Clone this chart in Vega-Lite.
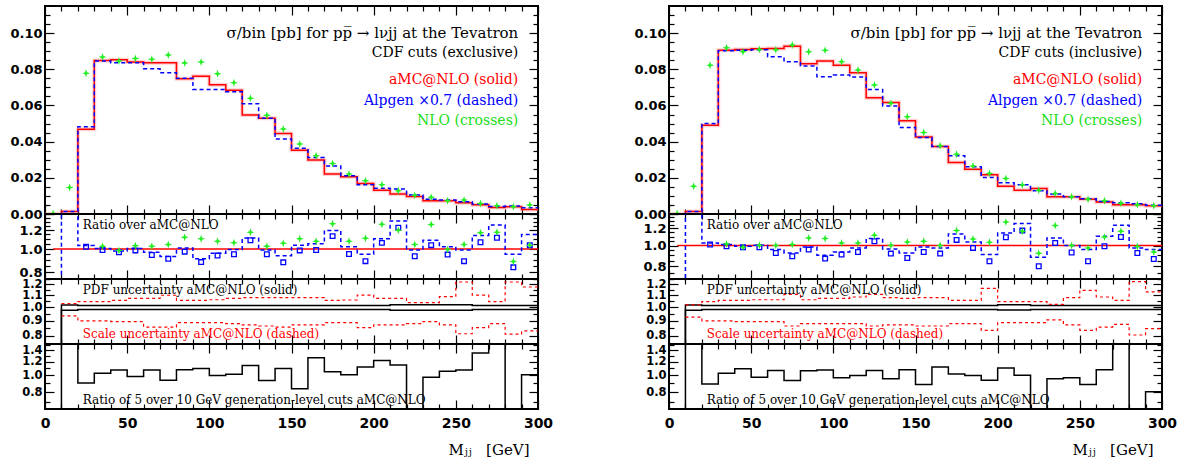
{
"$schema":"https://vega.github.io/schema/vega-lite/v6.json",
"background":"white",
"padding":{"left":8,"top":4,"right":5,"bottom":5},
"bounds":"full",
"spacing":78,
"config":{
 "view":{"stroke":"black","strokeWidth":2},
 "axis":{"domain":false,"grid":false,"labelFont":"DejaVu Sans","labelFontWeight":"bold","labelFontSize":13,"labelColor":"black","tickColor":"black","tickWidth":1.2,"labelFlush":false,"labelOverlap":false,"title":null}
},
"datasets":{
"L":[{"x":0,"amc":0,"alp":0,"ra":0.5,"pu":0.5,"pl":0.5,"su":null,"sl":null,"r5":0.3},
{"x":10,"amc":0.0014,"alp":0.0014,"ra":3,"pu":1.019,"pl":0.977,"su":1.03,"sl":0.935,"r5":3},
{"x":20,"amc":0.0469,"alp":0.0482,"ra":1.034,"pu":1.015,"pl":0.983,"su":1.046,"sl":0.899,"r5":0.906},
{"x":30,"amc":0.0849,"alp":0.0846,"ra":1.006,"pu":1.015,"pl":0.983,"su":1.046,"sl":0.899,"r5":1.031},
{"x":40,"amc":0.0853,"alp":0.0836,"ra":0.981,"pu":1.015,"pl":0.983,"su":1.057,"sl":0.894,"r5":1.077},
{"x":50,"amc":0.084,"alp":0.0836,"ra":1.006,"pu":1.015,"pl":0.983,"su":1.074,"sl":0.894,"r5":0.987},
{"x":60,"amc":0.0836,"alp":0.0803,"ra":0.969,"pu":1.015,"pl":0.983,"su":1.074,"sl":0.857,"r5":1.077},
{"x":70,"amc":0.0836,"alp":0.0781,"ra":0.93,"pu":1.015,"pl":0.983,"su":1.1,"sl":0.857,"r5":0.939},
{"x":80,"amc":0.0748,"alp":0.075,"ra":1.009,"pu":1.015,"pl":0.983,"su":1.057,"sl":0.887,"r5":1.08},
{"x":90,"amc":0.0761,"alp":0.0689,"ra":0.911,"pu":1.015,"pl":0.983,"su":1.057,"sl":0.887,"r5":1.098},
{"x":100,"amc":0.0715,"alp":0.0689,"ra":0.96,"pu":1.015,"pl":0.983,"su":1.062,"sl":0.887,"r5":1.0},
{"x":110,"amc":0.0684,"alp":0.0676,"ra":0.996,"pu":1.015,"pl":0.983,"su":1.074,"sl":0.88,"r5":1.017},
{"x":120,"amc":0.0548,"alp":0.061,"ra":1.111,"pu":1.015,"pl":0.983,"su":1.079,"sl":0.871,"r5":1.142},
{"x":130,"amc":0.053,"alp":0.053,"ra":0.991,"pu":1.015,"pl":0.983,"su":1.079,"sl":0.864,"r5":0.936},
{"x":140,"amc":0.0445,"alp":0.0414,"ra":0.937,"pu":1.015,"pl":0.983,"su":1.079,"sl":0.857,"r5":1.098},
{"x":150,"amc":0.0353,"alp":0.0364,"ra":1.038,"pu":1.015,"pl":0.983,"su":1.079,"sl":0.871,"r5":0.837},
{"x":160,"amc":0.0298,"alp":0.0312,"ra":1.051,"pu":1.015,"pl":0.983,"su":1.079,"sl":0.871,"r5":1.264},
{"x":170,"amc":0.0221,"alp":0.0266,"ra":1.195,"pu":1.015,"pl":0.983,"su":1.057,"sl":0.887,"r5":1.049},
{"x":180,"amc":0.0206,"alp":0.0211,"ra":1.022,"pu":1.015,"pl":0.983,"su":1.06,"sl":0.887,"r5":1.008},
{"x":190,"amc":0.0169,"alp":0.0162,"ra":0.951,"pu":1.015,"pl":0.983,"su":1.102,"sl":0.853,"r5":1.121},
{"x":200,"amc":0.0132,"alp":0.0143,"ra":1.104,"pu":1.015,"pl":0.983,"su":1.074,"sl":0.871,"r5":1.221},
{"x":210,"amc":0.011,"alp":0.0138,"ra":1.31,"pu":1.022,"pl":0.978,"su":1.074,"sl":0.871,"r5":1.151},
{"x":220,"amc":0.0097,"alp":0.0105,"ra":0.991,"pu":1.022,"pl":0.978,"su":1.038,"sl":0.88,"r5":0.3},
{"x":230,"amc":0.0073,"alp":0.0081,"ra":1.088,"pu":1.022,"pl":0.978,"su":1.038,"sl":0.894,"r5":0.978},
{"x":240,"amc":0.0073,"alp":0.0078,"ra":1.022,"pu":1.022,"pl":0.978,"su":1.088,"sl":0.871,"r5":1.059},
{"x":250,"amc":0.0062,"alp":0.0068,"ra":0.991,"pu":1.022,"pl":0.978,"su":1.221,"sl":0.813,"r5":1.077},
{"x":260,"amc":0.0051,"alp":0.0055,"ra":1.14,"pu":1.015,"pl":0.983,"su":1.102,"sl":0.853,"r5":1.35},
{"x":270,"amc":0.0036,"alp":0.0042,"ra":1.259,"pu":1.015,"pl":0.983,"su":1.046,"sl":0.88,"r5":3},
{"x":280,"amc":0.004,"alp":0.0044,"ra":0.951,"pu":1.015,"pl":0.983,"su":1.221,"sl":0.81,"r5":0.3},
{"x":290,"amc":0.0025,"alp":0.0035,"ra":1.15,"pu":1.015,"pl":0.983,"su":1.174,"sl":0.831,"r5":1.008},
{"x":300,"amc":0.0025,"alp":0.0035,"ra":1.15,"pu":1.015,"pl":0.983,"su":1.174,"sl":0.831,"r5":1.008}],
"Lc":[{"x":5,"nlo":0.0003,"sq":null,"rn":null},{"x":15,"nlo":0.0147,"sq":null,"rn":null},
{"x":25,"nlo":0.0778,"sq":1.022,"rn":null},{"x":35,"nlo":0.0868,"sq":0.991,"rn":1.028},
{"x":45,"nlo":0.0846,"sq":0.969,"rn":0.987},{"x":55,"nlo":0.086,"sq":0.987,"rn":1.031},
{"x":65,"nlo":0.0855,"sq":0.945,"rn":1.028},{"x":75,"nlo":0.0879,"sq":0.911,"rn":1.044},
{"x":85,"nlo":0.0835,"sq":0.975,"rn":1.119},{"x":95,"nlo":0.084,"sq":0.882,"rn":1.104},
{"x":105,"nlo":0.0776,"sq":0.939,"rn":1.078},{"x":115,"nlo":0.0726,"sq":0.951,"rn":1.061},
{"x":125,"nlo":0.064,"sq":1.088,"rn":1.176},{"x":135,"nlo":0.0546,"sq":0.951,"rn":1.028},
{"x":145,"nlo":0.047,"sq":0.88,"rn":1.058},{"x":155,"nlo":0.0387,"sq":0.987,"rn":1.104},
{"x":165,"nlo":0.0322,"sq":0.991,"rn":1.078},{"x":175,"nlo":0.0279,"sq":1.132,"rn":1.275},
{"x":185,"nlo":0.0221,"sq":0.954,"rn":1.078},{"x":195,"nlo":0.0184,"sq":0.89,"rn":1.11},
{"x":205,"nlo":0.0162,"sq":1.061,"rn":1.268},{"x":215,"nlo":0.0129,"sq":1.228,"rn":1.198},
{"x":225,"nlo":0.0103,"sq":0.933,"rn":1.044},{"x":235,"nlo":0.0092,"sq":1.038,"rn":1.265},
{"x":245,"nlo":0.0073,"sq":0.948,"rn":0.996},{"x":255,"nlo":0.0077,"sq":0.89,"rn":1.044},
{"x":265,"nlo":0.0058,"sq":1.068,"rn":1.168},{"x":275,"nlo":0.0046,"sq":1.115,"rn":1.176},
{"x":285,"nlo":0.004,"sq":0.839,"rn":0.888},{"x":295,"nlo":0.005,"sq":1.038,"rn":1.036}],
"R":[{"x":0,"amc":0,"alp":0,"ra":0.5,"pu":0.5,"pl":0.5,"su":null,"sl":null,"r5":0.3},
{"x":10,"amc":0.0014,"alp":0.0014,"ra":3,"pu":1.019,"pl":0.977,"su":1.02,"sl":0.927,"r5":3},
{"x":20,"amc":0.0491,"alp":0.05,"ra":1.028,"pu":1.015,"pl":0.983,"su":1.046,"sl":0.899,"r5":0.894},
{"x":30,"amc":0.0905,"alp":0.0902,"ra":1.011,"pu":1.015,"pl":0.983,"su":1.057,"sl":0.899,"r5":1.031},
{"x":40,"amc":0.091,"alp":0.0905,"ra":0.993,"pu":1.015,"pl":0.983,"su":1.057,"sl":0.894,"r5":1.092},
{"x":50,"amc":0.0913,"alp":0.0908,"ra":1.003,"pu":1.015,"pl":0.983,"su":1.062,"sl":0.894,"r5":0.978},
{"x":60,"amc":0.0915,"alp":0.0869,"ra":0.958,"pu":1.015,"pl":0.983,"su":1.062,"sl":0.894,"r5":1.069},
{"x":70,"amc":0.0928,"alp":0.0842,"ra":0.924,"pu":1.015,"pl":0.983,"su":1.108,"sl":0.864,"r5":0.936},
{"x":80,"amc":0.0831,"alp":0.0818,"ra":0.985,"pu":1.015,"pl":0.983,"su":1.062,"sl":0.88,"r5":1.066},
{"x":90,"amc":0.0846,"alp":0.0759,"ra":0.902,"pu":1.015,"pl":0.983,"su":1.074,"sl":0.88,"r5":1.077},
{"x":100,"amc":0.0822,"alp":0.0768,"ra":0.934,"pu":1.015,"pl":0.983,"su":1.074,"sl":0.88,"r5":0.969},
{"x":110,"amc":0.0781,"alp":0.0757,"ra":0.975,"pu":1.015,"pl":0.983,"su":1.085,"sl":0.88,"r5":1.0},
{"x":120,"amc":0.0643,"alp":0.0689,"ra":1.077,"pu":1.015,"pl":0.983,"su":1.108,"sl":0.864,"r5":1.069},
{"x":130,"amc":0.0616,"alp":0.0597,"ra":0.965,"pu":1.015,"pl":0.983,"su":1.079,"sl":0.871,"r5":0.956},
{"x":140,"amc":0.0515,"alp":0.0478,"ra":0.924,"pu":1.015,"pl":0.983,"su":1.074,"sl":0.871,"r5":1.08},
{"x":150,"amc":0.0426,"alp":0.0423,"ra":0.985,"pu":1.015,"pl":0.983,"su":1.079,"sl":0.864,"r5":0.887},
{"x":160,"amc":0.0373,"alp":0.0373,"ra":0.975,"pu":1.015,"pl":0.983,"su":1.079,"sl":0.864,"r5":1.121},
{"x":170,"amc":0.0285,"alp":0.0322,"ra":1.132,"pu":1.015,"pl":0.983,"su":1.057,"sl":0.88,"r5":1.021},
{"x":180,"amc":0.0248,"alp":0.0261,"ra":1.039,"pu":1.015,"pl":0.983,"su":1.057,"sl":0.88,"r5":1.0},
{"x":190,"amc":0.0217,"alp":0.0202,"ra":0.908,"pu":1.015,"pl":0.983,"su":1.162,"sl":0.835,"r5":0.939},
{"x":200,"amc":0.0154,"alp":0.0173,"ra":1.144,"pu":1.02,"pl":0.98,"su":1.046,"sl":0.887,"r5":1.106},
{"x":210,"amc":0.0132,"alp":0.0162,"ra":1.264,"pu":1.02,"pl":0.98,"su":1.046,"sl":0.887,"r5":1.004},
{"x":220,"amc":0.0141,"alp":0.0129,"ra":0.883,"pu":1.015,"pl":0.983,"su":1.046,"sl":0.887,"r5":0.3},
{"x":230,"amc":0.0095,"alp":0.011,"ra":1.084,"pu":1.015,"pl":0.983,"su":1.024,"sl":0.906,"r5":0.956},
{"x":240,"amc":0.0095,"alp":0.0095,"ra":1.0,"pu":1.015,"pl":0.983,"su":1.079,"sl":0.871,"r5":0.969},
{"x":250,"amc":0.0081,"alp":0.0084,"ra":0.958,"pu":1.015,"pl":0.983,"su":1.144,"sl":0.835,"r5":0.887},
{"x":260,"amc":0.0066,"alp":0.0069,"ra":1.104,"pu":1.015,"pl":0.983,"su":1.085,"sl":0.857,"r5":1.08},
{"x":270,"amc":0.0051,"alp":0.0062,"ra":1.242,"pu":1.015,"pl":0.983,"su":1.057,"sl":0.875,"r5":3},
{"x":280,"amc":0.0051,"alp":0.0057,"ra":0.975,"pu":1.015,"pl":0.983,"su":1.224,"sl":0.805,"r5":0.3},
{"x":290,"amc":0.0046,"alp":0.0048,"ra":0.958,"pu":1.015,"pl":0.983,"su":1.129,"sl":0.846,"r5":0.804},
{"x":300,"amc":0.0046,"alp":0.0048,"ra":0.958,"pu":1.015,"pl":0.983,"su":1.129,"sl":0.846,"r5":0.804}],
"Rc":[{"x":5,"nlo":0.0003,"sq":null,"rn":null},{"x":15,"nlo":0.0154,"sq":null,"rn":null},
{"x":25,"nlo":0.0823,"sq":1.011,"rn":null},{"x":35,"nlo":0.0919,"sq":0.993,"rn":1.017},
{"x":45,"nlo":0.0897,"sq":0.982,"rn":0.982},{"x":55,"nlo":0.091,"sq":0.982,"rn":1.003},
{"x":65,"nlo":0.0908,"sq":0.924,"rn":1.0},{"x":75,"nlo":0.0935,"sq":0.892,"rn":1.011},
{"x":85,"nlo":0.0897,"sq":0.958,"rn":1.084},{"x":95,"nlo":0.0906,"sq":0.87,"rn":1.077},
{"x":105,"nlo":0.0842,"sq":0.909,"rn":1.028},{"x":115,"nlo":0.0796,"sq":0.934,"rn":1.028},
{"x":125,"nlo":0.0713,"sq":1.047,"rn":1.116},{"x":135,"nlo":0.0612,"sq":0.918,"rn":1.003},
{"x":145,"nlo":0.0537,"sq":0.876,"rn":1.039},{"x":155,"nlo":0.045,"sq":0.934,"rn":1.047},
{"x":165,"nlo":0.0377,"sq":0.918,"rn":1.0},{"x":175,"nlo":0.0331,"sq":1.062,"rn":1.173},
{"x":185,"nlo":0.0266,"sq":0.975,"rn":1.073},{"x":195,"nlo":0.0224,"sq":0.846,"rn":1.035},
{"x":205,"nlo":0.0196,"sq":1.092,"rn":1.286},{"x":215,"nlo":0.016,"sq":1.173,"rn":1.165},
{"x":225,"nlo":0.0132,"sq":0.802,"rn":0.921},{"x":235,"nlo":0.0114,"sq":1.028,"rn":1.238},
{"x":245,"nlo":0.0095,"sq":0.929,"rn":1.0},{"x":255,"nlo":0.0081,"sq":0.846,"rn":0.975},
{"x":265,"nlo":0.0073,"sq":0.993,"rn":1.096},{"x":275,"nlo":0.006,"sq":1.096,"rn":1.165},
{"x":285,"nlo":0.0051,"sq":0.924,"rn":0.99},{"x":295,"nlo":0.0046,"sq":0.867,"rn":0.934}]
},
"hconcat":[
{"vconcat":[
 {"width":493,"height":208,"data":{"name":"L"},
  "layer":[
   {"mark":{"type":"line","interpolate":"step-after","color":"#ff8080","strokeWidth":4,"opacity":0.35,"clip":true},
    "encoding":{"x":{"field":"x","type":"quantitative","scale":{"domain":[0,300],"nice":false,"zero":false},"axis":{"orient":"bottom","values":[0,10,20,30,40,50,60,70,80,90,100,110,120,130,140,150,160,170,180,190,200,210,220,230,240,250,260,270,280,290,300],"labels":false,"tickSize":{"condition":{"test":"datum.value % 50 === 0","value":-9},"value":-5}}},
     "y":{"field":"amc","type":"quantitative","scale":{"domain":[0,0.115],"nice":false,"zero":false},"axis":{"orient":"left","values":[0,0.005,0.01,0.015,0.02,0.025,0.03,0.035,0.04,0.045,0.05,0.055,0.06,0.065,0.07,0.075,0.08,0.085,0.09,0.095,0.1,0.105,0.11],"tickSize":{"condition":{"test":"abs(datum.value*50-round(datum.value*50))<0.001","value":-9},"value":-5},"labelExpr":"abs(datum.value*50-round(datum.value*50))<0.001 ? format(datum.value,'.2f') : ''","labelPadding":12}}}},
   {"mark":{"type":"line","interpolate":"step-after","color":"#ff0000","strokeWidth":1.5,"clip":true},
    "encoding":{"x":{"field":"x","type":"quantitative","axis":{"orient":"top","values":[0,10,20,30,40,50,60,70,80,90,100,110,120,130,140,150,160,170,180,190,200,210,220,230,240,250,260,270,280,290,300],"labels":false,"tickSize":{"condition":{"test":"datum.value % 50 === 0","value":-9},"value":-5}}},
     "y":{"field":"amc","type":"quantitative","axis":{"orient":"right","values":[0,0.005,0.01,0.015,0.02,0.025,0.03,0.035,0.04,0.045,0.05,0.055,0.06,0.065,0.07,0.075,0.08,0.085,0.09,0.095,0.1,0.105,0.11],"labels":false,"tickSize":{"condition":{"test":"abs(datum.value*50-round(datum.value*50))<0.001","value":-9},"value":-5}}}}},
   {"mark":{"type":"line","interpolate":"step-after","color":"#0000ff","strokeWidth":1.5,"strokeDash":[4,3],"clip":true},
    "encoding":{"x":{"field":"x","type":"quantitative","axis":null},"y":{"field":"alp","type":"quantitative","axis":null}}},
   {"data":{"name":"Lc"},"mark":{"type":"point","shape":"M0,-1L0.25,-0.25L1,0L0.25,0.25L0,1L-0.25,0.25L-1,0L-0.25,-0.25Z","filled":true,"color":"#22ee22","opacity":1,"size":64,"clip":true},
    "encoding":{"x":{"field":"x","type":"quantitative","axis":null},"y":{"field":"nlo","type":"quantitative","axis":null}}},
   {"data":{"values":[{}]},"mark":{"type":"text","text":"σ/bin [pb] for pp\u0305 → lνjj at the Tevatron","align":"right","baseline":"middle","font":"DejaVu Serif","fontSize":15,"color":"black"},
    "encoding":{"x":{"datum":288,"type":"quantitative","axis":null},"y":{"datum":0.1,"type":"quantitative","axis":null}}},
   {"data":{"values":[{}]},"mark":{"type":"text","text":"CDF cuts (exclusive)","align":"right","baseline":"middle","font":"DejaVu Serif","fontSize":14,"color":"black"},
    "encoding":{"x":{"datum":288,"type":"quantitative","axis":null},"y":{"datum":0.089,"type":"quantitative","axis":null}}},
   {"data":{"values":[{}]},"mark":{"type":"text","text":"aMC@NLO (solid)","align":"right","baseline":"middle","font":"DejaVu Serif","fontSize":14,"color":"#ff0000"},
    "encoding":{"x":{"datum":288,"type":"quantitative","axis":null},"y":{"datum":0.0741,"type":"quantitative","axis":null}}},
   {"data":{"values":[{}]},"mark":{"type":"text","text":"Alpgen ×0.7 (dashed)","align":"right","baseline":"middle","font":"DejaVu Serif","fontSize":14,"color":"#0000ff"},
    "encoding":{"x":{"datum":288,"type":"quantitative","axis":null},"y":{"datum":0.0625,"type":"quantitative","axis":null}}},
   {"data":{"values":[{}]},"mark":{"type":"text","text":"NLO (crosses)","align":"right","baseline":"middle","font":"DejaVu Serif","fontSize":14,"color":"#22dd22"},
    "encoding":{"x":{"datum":288,"type":"quantitative","axis":null},"y":{"datum":0.0514,"type":"quantitative","axis":null}}}
  ],
  "resolve":{"axis":{"x":"independent","y":"independent"}}},
 {"width":493,"height":65,"data":{"name":"L"},
  "layer":[
   {"data":{"values":[{}]},"mark":{"type":"rule","color":"#ff0000","strokeWidth":1.5},
    "encoding":{"x":{"datum":5,"type":"quantitative","scale":{"domain":[0,300],"nice":false,"zero":false},"axis":{"orient":"bottom","values":[0,10,20,30,40,50,60,70,80,90,100,110,120,130,140,150,160,170,180,190,200,210,220,230,240,250,260,270,280,290,300],"labels":false,"tickSize":{"condition":{"test":"datum.value % 50 === 0","value":-9},"value":-5}}},"x2":{"datum":300},
     "y":{"datum":1,"type":"quantitative","scale":{"type":"log","domain":[0.75,1.4],"nice":false},"axis":{"orient":"left","values":[0.75,0.8,0.85,0.9,0.95,1,1.05,1.1,1.15,1.2,1.25,1.3,1.35,1.4],"tickSize":{"condition":{"test":"abs(datum.value*5-round(datum.value*5))<0.001","value":-9},"value":-5},"labelExpr":"abs(datum.value*5-round(datum.value*5))<0.001 && datum.value<1.3 ? format(datum.value,'.1f') : ''","labelPadding":12}}}},
   {"mark":{"type":"line","interpolate":"step-after","color":"#0000ff","strokeWidth":1.5,"strokeDash":[4,3],"clip":true},
    "encoding":{"x":{"field":"x","type":"quantitative","axis":{"orient":"top","values":[0,10,20,30,40,50,60,70,80,90,100,110,120,130,140,150,160,170,180,190,200,210,220,230,240,250,260,270,280,290,300],"labels":false,"tickSize":{"condition":{"test":"datum.value % 50 === 0","value":-9},"value":-5}}},
     "y":{"field":"ra","type":"quantitative","axis":{"orient":"right","values":[0.75,0.8,0.85,0.9,0.95,1,1.05,1.1,1.15,1.2,1.25,1.3,1.35,1.4],"labels":false,"tickSize":{"condition":{"test":"abs(datum.value*5-round(datum.value*5))<0.001","value":-9},"value":-5}}}}},
   {"data":{"name":"Lc"},"mark":{"type":"point","shape":"square","filled":false,"color":"#0000ff","size":22,"strokeWidth":1.3,"opacity":1,"clip":true},
    "encoding":{"x":{"field":"x","type":"quantitative","axis":null},"y":{"field":"sq","type":"quantitative","axis":null}}},
   {"data":{"name":"Lc"},"mark":{"type":"point","shape":"M0,-1L0.25,-0.25L1,0L0.25,0.25L0,1L-0.25,0.25L-1,0L-0.25,-0.25Z","filled":true,"color":"#22ee22","opacity":1,"size":64,"clip":true},
    "encoding":{"x":{"field":"x","type":"quantitative","axis":null},"y":{"field":"rn","type":"quantitative","axis":null}}},
   {"data":{"values":[{}]},"mark":{"type":"text","text":"Ratio over aMC@NLO","align":"left","baseline":"middle","font":"DejaVu Serif","fontSize":12,"color":"black"},
    "encoding":{"x":{"datum":23,"type":"quantitative","axis":null},"y":{"datum":1.259,"type":"quantitative","axis":null}}}
  ],
  "resolve":{"axis":{"x":"independent","y":"independent"}}},
 {"width":493,"height":65,"data":{"name":"L"},
  "layer":[
   {"mark":{"type":"line","interpolate":"step-after","color":"black","strokeWidth":1.5,"clip":true},
    "encoding":{"x":{"field":"x","type":"quantitative","scale":{"domain":[0,300],"nice":false,"zero":false},"axis":{"orient":"bottom","values":[0,10,20,30,40,50,60,70,80,90,100,110,120,130,140,150,160,170,180,190,200,210,220,230,240,250,260,270,280,290,300],"labels":false,"tickSize":{"condition":{"test":"datum.value % 50 === 0","value":-9},"value":-5}}},
     "y":{"field":"pu","type":"quantitative","scale":{"type":"log","domain":[0.75,1.25],"nice":false},"axis":{"orient":"left","values":[0.75,0.8,0.85,0.9,0.95,1,1.05,1.1,1.15,1.2,1.25],"tickSize":{"condition":{"test":"abs(datum.value*10-round(datum.value*10))<0.001","value":-9},"value":-5},"labelExpr":"abs(datum.value*10-round(datum.value*10))<0.001 && datum.value<1.22 && datum.value>0.78 ? format(datum.value,'.1f') : ''","labelPadding":12,"labelFontSize":11.5}}}},
   {"mark":{"type":"line","interpolate":"step-after","color":"black","strokeWidth":1.5,"clip":true},
    "encoding":{"x":{"field":"x","type":"quantitative","axis":{"orient":"top","values":[0,10,20,30,40,50,60,70,80,90,100,110,120,130,140,150,160,170,180,190,200,210,220,230,240,250,260,270,280,290,300],"labels":false,"tickSize":{"condition":{"test":"datum.value % 50 === 0","value":-9},"value":-5}}},
     "y":{"field":"pl","type":"quantitative","axis":{"orient":"right","values":[0.75,0.8,0.85,0.9,0.95,1,1.05,1.1,1.15,1.2,1.25],"labels":false,"tickSize":{"condition":{"test":"abs(datum.value*10-round(datum.value*10))<0.001","value":-9},"value":-5}}}}},
   {"mark":{"type":"line","interpolate":"step-after","color":"#ff0000","strokeWidth":1.2,"strokeDash":[3,3],"clip":true},
    "encoding":{"x":{"field":"x","type":"quantitative","axis":null},"y":{"field":"su","type":"quantitative","axis":null}}},
   {"mark":{"type":"line","interpolate":"step-after","color":"#ff0000","strokeWidth":1.2,"strokeDash":[3,3],"clip":true},
    "encoding":{"x":{"field":"x","type":"quantitative","axis":null},"y":{"field":"sl","type":"quantitative","axis":null}}},
   {"data":{"values":[{}]},"mark":{"type":"text","text":"PDF uncertainty aMC@NLO (solid)","align":"left","baseline":"middle","font":"DejaVu Serif","fontSize":12,"color":"black"},
    "encoding":{"x":{"datum":23,"type":"quantitative","axis":null},"y":{"datum":1.147,"type":"quantitative","axis":null}}},
   {"data":{"values":[{}]},"mark":{"type":"text","text":"Scale uncertainty aMC@NLO (dashed)","align":"left","baseline":"middle","font":"DejaVu Serif","fontSize":12,"color":"#ff0000"},
    "encoding":{"x":{"datum":23,"type":"quantitative","axis":null},"y":{"datum":0.811,"type":"quantitative","axis":null}}}
  ],
  "resolve":{"axis":{"x":"independent","y":"independent"}}},
 {"width":493,"height":65,"data":{"name":"L"},
  "layer":[
   {"mark":{"type":"line","interpolate":"step-after","color":"black","strokeWidth":1.5,"clip":true},
    "encoding":{"x":{"field":"x","type":"quantitative","scale":{"domain":[0,300],"nice":false,"zero":false},"axis":{"orient":"bottom","values":[0,10,20,30,40,50,60,70,80,90,100,110,120,130,140,150,160,170,180,190,200,210,220,230,240,250,260,270,280,290,300],"tickSize":{"condition":{"test":"datum.value % 50 === 0","value":-9},"value":-5},"labelExpr":"datum.value % 50 === 0 ? datum.label : ''","labelPadding":16,"labelFontSize":14,"title":"Mⱼⱼ\u00a0\u00a0\u00a0[GeV]","titleFont":"DejaVu Serif","titleFontSize":15,"titleFontWeight":"normal","titleColor":"black","titleAlign":"right","titleX":484,"titleY":40,"titleBaseline":"middle"}},
     "y":{"field":"r5","type":"quantitative","scale":{"type":"log","domain":[0.64,1.52],"nice":false},"axis":{"orient":"left","values":[0.7,0.8,0.9,1,1.1,1.2,1.3,1.4,1.5],"tickSize":{"condition":{"test":"abs(datum.value*5-round(datum.value*5))<0.001","value":-9},"value":-5},"labelExpr":"abs(datum.value*5-round(datum.value*5))<0.001 ? format(datum.value,'.1f') : ''","labelPadding":12,"labelFontSize":11.5}}}},
   {"data":{"values":[{}]},"mark":{"type":"text","text":"Ratio of 5 over 10 GeV generation-level cuts aMC@NLO","align":"left","baseline":"middle","font":"DejaVu Serif","fontSize":12,"color":"black"},
    "encoding":{"x":{"datum":23,"type":"quantitative","axis":{"orient":"top","values":[0,10,20,30,40,50,60,70,80,90,100,110,120,130,140,150,160,170,180,190,200,210,220,230,240,250,260,270,280,290,300],"labels":false,"tickSize":{"condition":{"test":"datum.value % 50 === 0","value":-9},"value":-5}}},
     "y":{"datum":0.722,"type":"quantitative","axis":{"orient":"right","values":[0.7,0.8,0.9,1,1.1,1.2,1.3,1.4,1.5],"labels":false,"tickSize":{"condition":{"test":"abs(datum.value*5-round(datum.value*5))<0.001","value":-9},"value":-5}}}}}
  ],
  "resolve":{"axis":{"x":"independent","y":"independent"}}}
],"spacing":0,"bounds":"flush"},
{"vconcat":[
 {"width":493,"height":208,"data":{"name":"R"},
  "layer":[
   {"mark":{"type":"line","interpolate":"step-after","color":"#ff8080","strokeWidth":4,"opacity":0.35,"clip":true},
    "encoding":{"x":{"field":"x","type":"quantitative","scale":{"domain":[0,300],"nice":false,"zero":false},"axis":{"orient":"bottom","values":[0,10,20,30,40,50,60,70,80,90,100,110,120,130,140,150,160,170,180,190,200,210,220,230,240,250,260,270,280,290,300],"labels":false,"tickSize":{"condition":{"test":"datum.value % 50 === 0","value":-9},"value":-5}}},
     "y":{"field":"amc","type":"quantitative","scale":{"domain":[0,0.115],"nice":false,"zero":false},"axis":{"orient":"left","values":[0,0.005,0.01,0.015,0.02,0.025,0.03,0.035,0.04,0.045,0.05,0.055,0.06,0.065,0.07,0.075,0.08,0.085,0.09,0.095,0.1,0.105,0.11],"tickSize":{"condition":{"test":"abs(datum.value*50-round(datum.value*50))<0.001","value":-9},"value":-5},"labelExpr":"abs(datum.value*50-round(datum.value*50))<0.001 ? format(datum.value,'.2f') : ''","labelPadding":12}}}},
   {"mark":{"type":"line","interpolate":"step-after","color":"#ff0000","strokeWidth":1.5,"clip":true},
    "encoding":{"x":{"field":"x","type":"quantitative","axis":{"orient":"top","values":[0,10,20,30,40,50,60,70,80,90,100,110,120,130,140,150,160,170,180,190,200,210,220,230,240,250,260,270,280,290,300],"labels":false,"tickSize":{"condition":{"test":"datum.value % 50 === 0","value":-9},"value":-5}}},
     "y":{"field":"amc","type":"quantitative","axis":{"orient":"right","values":[0,0.005,0.01,0.015,0.02,0.025,0.03,0.035,0.04,0.045,0.05,0.055,0.06,0.065,0.07,0.075,0.08,0.085,0.09,0.095,0.1,0.105,0.11],"labels":false,"tickSize":{"condition":{"test":"abs(datum.value*50-round(datum.value*50))<0.001","value":-9},"value":-5}}}}},
   {"mark":{"type":"line","interpolate":"step-after","color":"#0000ff","strokeWidth":1.5,"strokeDash":[4,3],"clip":true},
    "encoding":{"x":{"field":"x","type":"quantitative","axis":null},"y":{"field":"alp","type":"quantitative","axis":null}}},
   {"data":{"name":"Rc"},"mark":{"type":"point","shape":"M0,-1L0.25,-0.25L1,0L0.25,0.25L0,1L-0.25,0.25L-1,0L-0.25,-0.25Z","filled":true,"color":"#22ee22","opacity":1,"size":64,"clip":true},
    "encoding":{"x":{"field":"x","type":"quantitative","axis":null},"y":{"field":"nlo","type":"quantitative","axis":null}}},
   {"data":{"values":[{}]},"mark":{"type":"text","text":"σ/bin [pb] for pp\u0305 → lνjj at the Tevatron","align":"right","baseline":"middle","font":"DejaVu Serif","fontSize":15,"color":"black"},
    "encoding":{"x":{"datum":288,"type":"quantitative","axis":null},"y":{"datum":0.1,"type":"quantitative","axis":null}}},
   {"data":{"values":[{}]},"mark":{"type":"text","text":"CDF cuts (inclusive)","align":"right","baseline":"middle","font":"DejaVu Serif","fontSize":14,"color":"black"},
    "encoding":{"x":{"datum":288,"type":"quantitative","axis":null},"y":{"datum":0.089,"type":"quantitative","axis":null}}},
   {"data":{"values":[{}]},"mark":{"type":"text","text":"aMC@NLO (solid)","align":"right","baseline":"middle","font":"DejaVu Serif","fontSize":14,"color":"#ff0000"},
    "encoding":{"x":{"datum":288,"type":"quantitative","axis":null},"y":{"datum":0.0741,"type":"quantitative","axis":null}}},
   {"data":{"values":[{}]},"mark":{"type":"text","text":"Alpgen ×0.7 (dashed)","align":"right","baseline":"middle","font":"DejaVu Serif","fontSize":14,"color":"#0000ff"},
    "encoding":{"x":{"datum":288,"type":"quantitative","axis":null},"y":{"datum":0.0625,"type":"quantitative","axis":null}}},
   {"data":{"values":[{}]},"mark":{"type":"text","text":"NLO (crosses)","align":"right","baseline":"middle","font":"DejaVu Serif","fontSize":14,"color":"#22dd22"},
    "encoding":{"x":{"datum":288,"type":"quantitative","axis":null},"y":{"datum":0.0514,"type":"quantitative","axis":null}}}
  ],
  "resolve":{"axis":{"x":"independent","y":"independent"}}},
 {"width":493,"height":65,"data":{"name":"R"},
  "layer":[
   {"data":{"values":[{}]},"mark":{"type":"rule","color":"#ff0000","strokeWidth":1.5},
    "encoding":{"x":{"datum":5,"type":"quantitative","scale":{"domain":[0,300],"nice":false,"zero":false},"axis":{"orient":"bottom","values":[0,10,20,30,40,50,60,70,80,90,100,110,120,130,140,150,160,170,180,190,200,210,220,230,240,250,260,270,280,290,300],"labels":false,"tickSize":{"condition":{"test":"datum.value % 50 === 0","value":-9},"value":-5}}},"x2":{"datum":300},
     "y":{"datum":1,"type":"quantitative","scale":{"type":"log","domain":[0.7,1.4],"nice":false},"axis":{"orient":"left","values":[0.7,0.75,0.8,0.85,0.9,0.95,1,1.05,1.1,1.15,1.2,1.25,1.3,1.35,1.4],"tickSize":{"condition":{"test":"abs(datum.value*5-round(datum.value*5))<0.001","value":-9},"value":-5},"labelExpr":"abs(datum.value*5-round(datum.value*5))<0.001 && datum.value<1.3 ? format(datum.value,'.1f') : ''","labelPadding":12}}}},
   {"mark":{"type":"line","interpolate":"step-after","color":"#0000ff","strokeWidth":1.5,"strokeDash":[4,3],"clip":true},
    "encoding":{"x":{"field":"x","type":"quantitative","axis":{"orient":"top","values":[0,10,20,30,40,50,60,70,80,90,100,110,120,130,140,150,160,170,180,190,200,210,220,230,240,250,260,270,280,290,300],"labels":false,"tickSize":{"condition":{"test":"datum.value % 50 === 0","value":-9},"value":-5}}},
     "y":{"field":"ra","type":"quantitative","axis":{"orient":"right","values":[0.7,0.75,0.8,0.85,0.9,0.95,1,1.05,1.1,1.15,1.2,1.25,1.3,1.35,1.4],"labels":false,"tickSize":{"condition":{"test":"abs(datum.value*5-round(datum.value*5))<0.001","value":-9},"value":-5}}}}},
   {"data":{"name":"Rc"},"mark":{"type":"point","shape":"square","filled":false,"color":"#0000ff","size":22,"strokeWidth":1.3,"opacity":1,"clip":true},
    "encoding":{"x":{"field":"x","type":"quantitative","axis":null},"y":{"field":"sq","type":"quantitative","axis":null}}},
   {"data":{"name":"Rc"},"mark":{"type":"point","shape":"M0,-1L0.25,-0.25L1,0L0.25,0.25L0,1L-0.25,0.25L-1,0L-0.25,-0.25Z","filled":true,"color":"#22ee22","opacity":1,"size":64,"clip":true},
    "encoding":{"x":{"field":"x","type":"quantitative","axis":null},"y":{"field":"rn","type":"quantitative","axis":null}}},
   {"data":{"values":[{}]},"mark":{"type":"text","text":"Ratio over aMC@NLO","align":"left","baseline":"middle","font":"DejaVu Serif","fontSize":12,"color":"black"},
    "encoding":{"x":{"datum":23,"type":"quantitative","axis":null},"y":{"datum":1.244,"type":"quantitative","axis":null}}}
  ],
  "resolve":{"axis":{"x":"independent","y":"independent"}}},
 {"width":493,"height":65,"data":{"name":"R"},
  "layer":[
   {"mark":{"type":"line","interpolate":"step-after","color":"black","strokeWidth":1.5,"clip":true},
    "encoding":{"x":{"field":"x","type":"quantitative","scale":{"domain":[0,300],"nice":false,"zero":false},"axis":{"orient":"bottom","values":[0,10,20,30,40,50,60,70,80,90,100,110,120,130,140,150,160,170,180,190,200,210,220,230,240,250,260,270,280,290,300],"labels":false,"tickSize":{"condition":{"test":"datum.value % 50 === 0","value":-9},"value":-5}}},
     "y":{"field":"pu","type":"quantitative","scale":{"type":"log","domain":[0.75,1.25],"nice":false},"axis":{"orient":"left","values":[0.75,0.8,0.85,0.9,0.95,1,1.05,1.1,1.15,1.2,1.25],"tickSize":{"condition":{"test":"abs(datum.value*10-round(datum.value*10))<0.001","value":-9},"value":-5},"labelExpr":"abs(datum.value*10-round(datum.value*10))<0.001 && datum.value<1.22 && datum.value>0.78 ? format(datum.value,'.1f') : ''","labelPadding":12,"labelFontSize":11.5}}}},
   {"mark":{"type":"line","interpolate":"step-after","color":"black","strokeWidth":1.5,"clip":true},
    "encoding":{"x":{"field":"x","type":"quantitative","axis":{"orient":"top","values":[0,10,20,30,40,50,60,70,80,90,100,110,120,130,140,150,160,170,180,190,200,210,220,230,240,250,260,270,280,290,300],"labels":false,"tickSize":{"condition":{"test":"datum.value % 50 === 0","value":-9},"value":-5}}},
     "y":{"field":"pl","type":"quantitative","axis":{"orient":"right","values":[0.75,0.8,0.85,0.9,0.95,1,1.05,1.1,1.15,1.2,1.25],"labels":false,"tickSize":{"condition":{"test":"abs(datum.value*10-round(datum.value*10))<0.001","value":-9},"value":-5}}}}},
   {"mark":{"type":"line","interpolate":"step-after","color":"#ff0000","strokeWidth":1.2,"strokeDash":[3,3],"clip":true},
    "encoding":{"x":{"field":"x","type":"quantitative","axis":null},"y":{"field":"su","type":"quantitative","axis":null}}},
   {"mark":{"type":"line","interpolate":"step-after","color":"#ff0000","strokeWidth":1.2,"strokeDash":[3,3],"clip":true},
    "encoding":{"x":{"field":"x","type":"quantitative","axis":null},"y":{"field":"sl","type":"quantitative","axis":null}}},
   {"data":{"values":[{}]},"mark":{"type":"text","text":"PDF uncertainty aMC@NLO (solid)","align":"left","baseline":"middle","font":"DejaVu Serif","fontSize":12,"color":"black"},
    "encoding":{"x":{"datum":23,"type":"quantitative","axis":null},"y":{"datum":1.147,"type":"quantitative","axis":null}}},
   {"data":{"values":[{}]},"mark":{"type":"text","text":"Scale uncertainty aMC@NLO (dashed)","align":"left","baseline":"middle","font":"DejaVu Serif","fontSize":12,"color":"#ff0000"},
    "encoding":{"x":{"datum":23,"type":"quantitative","axis":null},"y":{"datum":0.811,"type":"quantitative","axis":null}}}
  ],
  "resolve":{"axis":{"x":"independent","y":"independent"}}},
 {"width":493,"height":65,"data":{"name":"R"},
  "layer":[
   {"mark":{"type":"line","interpolate":"step-after","color":"black","strokeWidth":1.5,"clip":true},
    "encoding":{"x":{"field":"x","type":"quantitative","scale":{"domain":[0,300],"nice":false,"zero":false},"axis":{"orient":"bottom","values":[0,10,20,30,40,50,60,70,80,90,100,110,120,130,140,150,160,170,180,190,200,210,220,230,240,250,260,270,280,290,300],"tickSize":{"condition":{"test":"datum.value % 50 === 0","value":-9},"value":-5},"labelExpr":"datum.value % 50 === 0 ? datum.label : ''","labelPadding":16,"labelFontSize":14,"title":"Mⱼⱼ\u00a0\u00a0\u00a0[GeV]","titleFont":"DejaVu Serif","titleFontSize":15,"titleFontWeight":"normal","titleColor":"black","titleAlign":"right","titleX":484,"titleY":40,"titleBaseline":"middle"}},
     "y":{"field":"r5","type":"quantitative","scale":{"type":"log","domain":[0.64,1.52],"nice":false},"axis":{"orient":"left","values":[0.7,0.8,0.9,1,1.1,1.2,1.3,1.4,1.5],"tickSize":{"condition":{"test":"abs(datum.value*5-round(datum.value*5))<0.001","value":-9},"value":-5},"labelExpr":"abs(datum.value*5-round(datum.value*5))<0.001 ? format(datum.value,'.1f') : ''","labelPadding":12,"labelFontSize":11.5}}}},
   {"data":{"values":[{}]},"mark":{"type":"text","text":"Ratio of 5 over 10 GeV generation-level cuts aMC@NLO","align":"left","baseline":"middle","font":"DejaVu Serif","fontSize":12,"color":"black"},
    "encoding":{"x":{"datum":23,"type":"quantitative","axis":{"orient":"top","values":[0,10,20,30,40,50,60,70,80,90,100,110,120,130,140,150,160,170,180,190,200,210,220,230,240,250,260,270,280,290,300],"labels":false,"tickSize":{"condition":{"test":"datum.value % 50 === 0","value":-9},"value":-5}}},
     "y":{"datum":0.722,"type":"quantitative","axis":{"orient":"right","values":[0.7,0.8,0.9,1,1.1,1.2,1.3,1.4,1.5],"labels":false,"tickSize":{"condition":{"test":"abs(datum.value*5-round(datum.value*5))<0.001","value":-9},"value":-5}}}}}
  ],
  "resolve":{"axis":{"x":"independent","y":"independent"}}}
],"spacing":0,"bounds":"flush"}
]
}
